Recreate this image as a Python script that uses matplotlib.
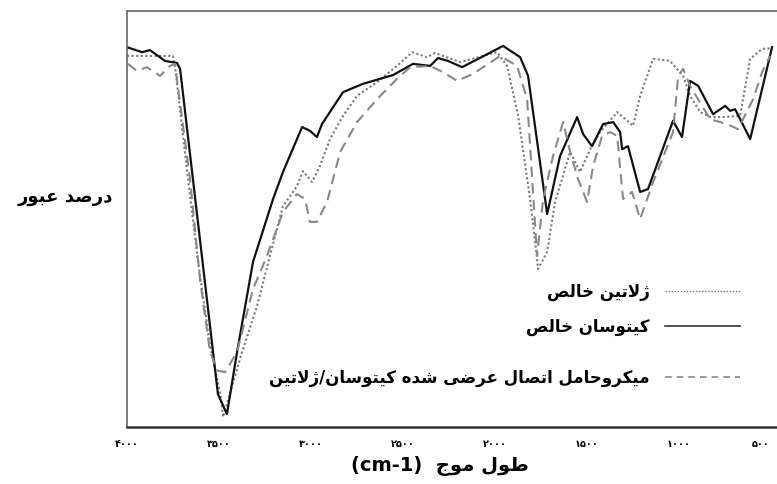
import matplotlib
matplotlib.use('Agg')
import matplotlib.pyplot as plt
from matplotlib.lines import Line2D

plt.rcParams['font.family'] = ['DejaVu Sans']

# طیف FTIR - عدد موج و درصد عبور
gel_w = [4000, 3750, 3739, 3668, 3613, 3548, 3494, 3477, 3374, 3292, 3222, 3151, 3075, 3042,
         2993, 2950, 2895, 2824, 2748, 2639, 2530, 2448, 2367, 2323, 2187, 1986, 1931, 1871,
         1806, 1768, 1763, 1713, 1670, 1588, 1534, 1479, 1425, 1332, 1245, 1207, 1136, 1044,
         973, 935, 880, 826, 755, 663, 608, 543, 500]
gel_t = [89.2, 89.2, 86.8, 59.6, 39.7, 19.5, 8.4, 2.4, 18.0, 29.1, 41.1, 53.1, 57.9, 61.5,
         58.9, 62.7, 69.2, 74.8, 79.6, 82.9, 86.8, 90.1, 88.9, 89.9, 87.7, 90.1, 86.8, 74.8,
         54.8, 40.4, 38.0, 42.1, 54.1, 66.1, 61.3, 66.8, 70.9, 75.7, 72.4, 79.6, 88.5, 88.0,
         84.4, 79.6, 75.7, 74.5, 74.5, 74.8, 88.5, 90.9, 91.0]

chi_w = [4000, 3918, 3875, 3793, 3728, 3711, 3505, 3456, 3401, 3314, 3205, 3151, 3047, 3004,
         2966, 2939, 2824, 2715, 2552, 2443, 2350, 2307, 2253, 2176, 1953, 1860, 1817, 1713,
         1643, 1550, 1517, 1469, 1409, 1354, 1316, 1305, 1273, 1207, 1164, 1028, 979, 935,
         891, 810, 744, 717, 690, 608, 489]
chi_t = [91.3, 90.1, 90.6, 88.0, 87.5, 86.1, 7.9, 3.1, 18.0, 39.7, 54.8, 61.3, 72.1, 71.2,
         69.7, 72.8, 80.5, 82.5, 84.6, 87.3, 86.8, 88.7, 88.0, 86.5, 91.6, 88.9, 84.4, 51.2,
         65.1, 74.5, 70.4, 67.5, 72.8, 73.3, 70.9, 66.8, 67.5, 56.5, 57.2, 73.6, 69.7, 83.2,
         82.0, 75.2, 77.2, 76.0, 76.4, 69.2, 91.3]

mix_w = [3995, 3946, 3891, 3820, 3766, 3739, 3657, 3603, 3548, 3505, 3466, 3401, 3314, 3238,
         3151, 3075, 3031, 3004, 2966, 2911, 2840, 2748, 2639, 2530, 2459, 2350, 2280, 2203,
         2116, 1969, 1877, 1822, 1768, 1735, 1681, 1626, 1588, 1545, 1496, 1463, 1414, 1371,
         1332, 1300, 1251, 1207, 1136, 1028, 1000, 973, 935, 826, 733, 674, 592, 543, 500]
mix_t = [87.3, 85.6, 86.5, 84.4, 86.8, 87.3, 59.6, 35.6, 18.0, 13.5, 13.2, 18.0, 33.2, 41.1,
         51.7, 56.0, 54.8, 49.3, 49.3, 54.1, 66.1, 73.3, 78.8, 83.7, 86.5, 86.8, 85.3, 83.2,
         84.9, 89.2, 86.8, 78.8, 41.1, 54.8, 65.1, 73.3, 66.1, 59.6, 54.1, 62.7, 70.0, 70.9,
         70.0, 54.8, 56.5, 50.0, 58.9, 70.9, 84.4, 86.1, 82.0, 74.0, 72.8, 71.6, 78.8, 85.3, 89.2]

ticks = [4000, 3500, 3000, 2500, 2000, 1500, 1000, 500]

# شکل‌دهی حروف فارسی (matplotlib خودش حروف را به هم وصل نمی‌کند)
FORMS = {
    'ا': '\uFE8D\uFE8E', 'ب': '\uFE8F\uFE90\uFE91\uFE92', 'ت': '\uFE95\uFE96\uFE97\uFE98',
    'ج': '\uFE9D\uFE9E\uFE9F\uFEA0', 'ح': '\uFEA1\uFEA2\uFEA3\uFEA4', 'خ': '\uFEA5\uFEA6\uFEA7\uFEA8',
    'د': '\uFEA9\uFEAA', 'ر': '\uFEAD\uFEAE', 'ز': '\uFEAF\uFEB0', 'ژ': '\uFB8A\uFB8B',
    'س': '\uFEB1\uFEB2\uFEB3\uFEB4', 'ش': '\uFEB5\uFEB6\uFEB7\uFEB8', 'ص': '\uFEB9\uFEBA\uFEBB\uFEBC',
    'ض': '\uFEBD\uFEBE\uFEBF\uFEC0', 'ط': '\uFEC1\uFEC2\uFEC3\uFEC4', 'ع': '\uFEC9\uFECA\uFECB\uFECC',
    'ک': '\uFB8E\uFB8F\uFB90\uFB91', 'ل': '\uFEDD\uFEDE\uFEDF\uFEE0', 'م': '\uFEE1\uFEE2\uFEE3\uFEE4',
    'ن': '\uFEE5\uFEE6\uFEE7\uFEE8', 'و': '\uFEED\uFEEE', 'ه': '\uFEE9\uFEEA\uFEEB\uFEEC',
    'ی': '\uFBFC\uFBFD\uFBFE\uFBFF',
}


def fa(text):
    out = []
    i = 0
    while i < len(text):
        c = text[i]
        prev = text[i - 1] if i > 0 else ''
        jp = len(FORMS.get(prev, '')) == 4
        if c == 'ل' and i + 1 < len(text) and text[i + 1] == 'ا':
            out.append('\uFEFC' if jp else '\uFEFB')
            i += 2
            continue
        if c not in FORMS:
            out.append(c)
            i += 1
            continue
        f = FORMS[c]
        nxt = text[i + 1] if i + 1 < len(text) else ''
        jn = len(f) == 4 and nxt in FORMS
        if jp and jn:
            out.append(f[3])
        elif jp:
            out.append(f[1])
        elif jn:
            out.append(f[2])
        else:
            out.append(f[0])
        i += 1
    return ''.join(out[::-1])


def fa_digits(n):
    return str(n).translate(str.maketrans('0123456789', '۰۱۲۳۴۵۶۷۸۹'))


fig = plt.figure(figsize=(7.77, 4.85), dpi=100)
ax = fig.add_axes([127 / 777, 1 - 428 / 485, 650 / 777, 416 / 485])

ax.plot(gel_w, gel_t, color='#777777', lw=1.5, linestyle=(0, (1, 1.2)))
ax.plot(chi_w, chi_t, color='#111111', lw=1.6)
ax.plot(mix_w, mix_t, color='#888888', lw=1.5, linestyle=(0, (5, 3)))

ax.set_xlim(4000, 462)
ax.set_ylim(0, 100)
ax.set_yticks([])
ax.set_xticks(ticks)
ax.set_xticklabels([fa_digits(t) for t in ticks], fontsize=7, fontweight='bold')
ax.get_xticklabels()[-1].set_horizontalalignment('right')
ax.tick_params(axis='x', length=0, pad=8)
ax.spines['right'].set_visible(False)
for s in ['left', 'top']:
    ax.spines[s].set_color('#666666')
    ax.spines[s].set_linewidth(1.2)
ax.spines['bottom'].set_color('#333333')
ax.spines['bottom'].set_linewidth(1.8)

fig.text(65 / 777, 1 - 197 / 485, fa('درصد عبور'), fontsize=13, fontweight='bold',
         ha='center', va='center')
fig.text(440 / 777, 1 - 466 / 485, '(cm-1)  ' + fa('طول موج'), fontsize=14, fontweight='bold',
         ha='center', va='center')

# راهنما
labels = ['ژلاتین خالص', 'کیتوسان خالص', 'میکروحامل اتصال عرضی شده کیتوسان/ژلاتین']
styles = [dict(color='#777777', lw=1.0, linestyle=(0, (1, 1.2))),
          dict(color='#333333', lw=1.2),
          dict(color='#888888', lw=1.2, linestyle=(0, (4, 3)))]
rows = [292, 327, 378]
for lab, st, yp in zip(labels, styles, rows):
    y = 1 - yp / 485
    fig.add_artist(Line2D([665 / 777, 740 / 777], [y, y], transform=fig.transFigure, **st))
    fig.text(650 / 777, y, fa(lab), fontsize=12, fontweight='bold', ha='right', va='center')

fig.savefig('out.png', dpi=100)
